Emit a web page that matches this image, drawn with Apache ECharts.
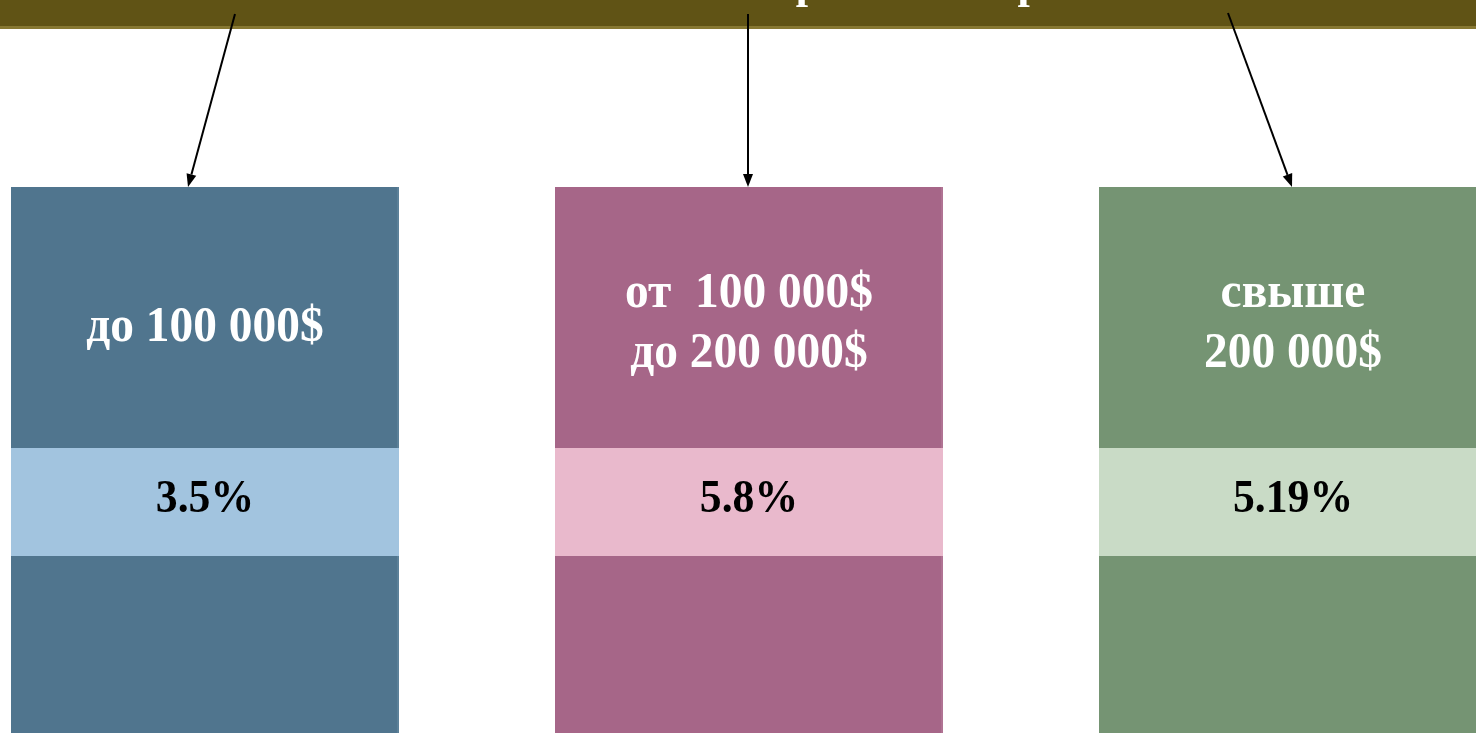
<!DOCTYPE html>
<html><head><meta charset="utf-8">
<script src="https://cdn.jsdelivr.net/npm/echarts@6/dist/echarts.min.js"></script>
<style>html,body{margin:0;padding:0;background:#fff}#c{width:1476px;height:733px}</style>
</head><body><div id="c"></div>
<script>
const categories = ['до 100 000$', 'от  100 000$\nдо 200 000$', 'свыше\n200 000$'];
const rates = [3.5, 5.8, 5.19];
const rateLabels = ['3.5%', '5.8%', '5.19%'];
const titleText = 'Сравнение прибыльности';

const boxColors = ['#50758e', '#a66688', '#759473'];
const bandColors = ['#a2c4df', '#e9b9cc', '#c9dbc6'];
const edgeColors = ['#5c8199', '#b07393', '#7f9d7d'];

const chart = echarts.init(document.getElementById('c'));
const SERIF = '"Liberation Serif","DejaVu Serif",serif';

function arrow(x1, y1, x2, y2) {
  const ang = Math.atan2(y2 - y1, x2 - x1);
  const L = 13, W = 5;
  const bx = x2 - L * Math.cos(ang), by = y2 - L * Math.sin(ang);
  const px = -Math.sin(ang) * W, py = Math.cos(ang) * W;
  return [
    {type: 'line', shape: {x1, y1, x2: bx, y2: by}, style: {stroke: '#000', lineWidth: 2}, z: 10},
    {type: 'polygon', shape: {points: [[x2, y2], [bx + px, by + py], [bx - px, by - py]]}, style: {fill: '#000'}, z: 10}
  ];
}

// index 0 -> x≈205px, spacing 544px over a 1476px wide grid
const xMin = -205 / 544, xMax = (1476 - 205) / 544;

chart.setOption({
  animation: false,
  grid: {left: 0, right: 0, top: 0, bottom: 0},
  xAxis: {type: 'value', min: xMin, max: xMax, show: false},
  yAxis: {type: 'value', min: 0, max: 10, show: false},
  graphic: [
    {type: 'rect', shape: {x: 0, y: 0, width: 1476, height: 26}, style: {fill: '#605315'}, z: 5},
    {type: 'rect', shape: {x: 0, y: 26, width: 1476, height: 3}, style: {fill: '#877832'}, z: 5},
    {type: 'text', x: 764, y: 9, style: {text: titleText, font: 'bold 44px ' + SERIF, fill: '#fff', textVerticalAlign: 'bottom', textAlign: 'left'}, z: 6},
    ...arrow(235, 14, 188, 187),
    ...arrow(748, 14, 748, 187),
    ...arrow(1228, 13, 1292, 187)
  ],
  series: [{
    type: 'custom',
    data: categories.map((c, i) => [i, rates[i]]),
    renderItem: function (params, api) {
      const i = params.dataIndex;
      const cx = api.coord([api.value(0), 0])[0];
      const w = 388, top = 187, bottom = 733;
      const x0 = cx - w / 2;
      const lines = categories[i].split('\n').length;
      return {
        type: 'group',
        children: [
          {type: 'rect', shape: {x: x0, y: top, width: w, height: bottom - top}, style: {fill: boxColors[i]}},
          {type: 'rect', shape: {x: x0 + w - 2, y: top, width: 2, height: bottom - top}, style: {fill: edgeColors[i]}},
          {type: 'rect', shape: {x: x0, y: 448, width: w, height: 108}, style: {fill: bandColors[i]}},
          {type: 'text', x: cx, y: lines === 1 ? 328 : 324, scaleX: 0.93,
            style: {text: categories[i], font: 'bold 51px ' + SERIF, fill: '#fff', align: 'center', verticalAlign: 'middle', lineHeight: 60}},
          {type: 'text', x: cx, y: 500, scaleX: 0.95,
            style: {text: rateLabels[i], font: 'bold 46px ' + SERIF, fill: '#000', align: 'center', verticalAlign: 'middle'}}
        ]
      };
    }
  }]
});
</script></body></html>
